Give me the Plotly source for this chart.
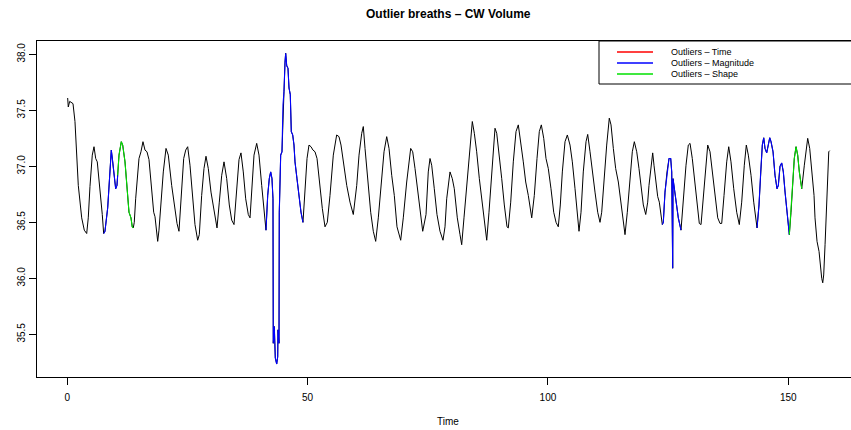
import plotly.graph_objects as go

# ---- data ----
time = [0.08, 0.21, 0.50, 0.77, 1.19, 1.60, 2.29, 3.00, 3.54, 4.04, 4.37, 4.72, 5.20, 5.56, 5.91, 6.24,
        6.80, 7.28, 7.57, 7.84, 8.41, 8.88, 9.16, 9.45, 9.78, 10.07, 10.34, 10.49, 10.76, 11.24, 11.53,
        12.01, 12.42, 12.84, 13.25, 13.52, 13.73, 13.94, 14.23, 14.56, 14.92, 15.33, 15.75, 16.17, 16.58,
        17.00, 17.56, 17.98, 18.25, 18.52, 18.81, 19.08, 19.50, 19.98, 20.54, 21.02, 21.72, 22.41, 22.83,
        23.24, 23.66, 24.22, 24.64, 25.05, 25.53, 26.01, 26.57, 27.13, 27.47, 27.96, 28.44, 28.86, 29.34,
        29.90, 30.59, 31.15, 31.63, 32.13, 32.61, 33.17, 33.71, 34.21, 34.69, 35.25, 35.73, 36.14, 36.62,
        37.12, 37.66, 38.02, 38.37, 38.85, 39.41, 39.89, 40.45, 40.99, 41.34, 41.70, 42.03, 42.32, 42.59,
        42.80, 42.86, 43.07, 43.28, 43.57, 43.78, 43.84, 44.05, 44.11, 44.40, 44.67, 44.88, 45.09, 45.30,
        45.44, 45.65, 45.92, 46.13, 46.40, 46.61, 46.90, 47.17, 47.38, 47.79, 48.21, 48.63, 49.04, 49.46,
        49.88, 50.29, 50.71, 51.12, 51.54, 51.96, 52.52, 53.06, 53.62, 54.10, 54.66, 55.35, 56.05, 56.53,
        56.95, 57.43, 58.14, 58.82, 59.51, 60.22, 60.70, 61.26, 61.59, 61.95, 62.51, 63.13, 63.67, 64.17,
        64.71, 65.27, 65.90, 66.46, 66.94, 67.50, 68.04, 68.60, 69.37, 69.91, 70.62, 71.45, 71.87, 72.35,
        72.83, 73.39, 73.95, 74.64, 75.11, 75.47, 75.82, 76.36, 76.92, 77.55, 78.17, 78.59, 78.94, 79.63,
        80.11, 80.52, 81.15, 81.71, 82.06, 82.54, 83.10, 83.58, 84.27, 84.69, 85.18, 85.73, 86.35, 86.91,
        87.27, 87.74, 88.31, 88.99, 89.35, 89.83, 90.39, 90.93, 91.49, 91.76, 92.26, 92.80, 93.36, 93.84,
        94.34, 94.88, 95.38, 95.92, 96.63, 97.17, 97.73, 98.21, 98.63, 99.13, 99.60, 100.08, 100.64,
        101.21, 101.69, 102.16, 102.58, 103.00, 103.56, 104.04, 104.60, 105.08, 105.64, 106.05, 106.47,
        106.89, 107.36, 107.93, 108.28, 108.76, 109.24, 109.80, 110.36, 110.84, 111.19, 111.67, 112.23,
        112.77, 113.13, 113.61, 114.10, 114.65, 115.21, 115.69, 116.04, 116.52, 117.08, 117.56, 117.98,
        118.48, 118.95, 119.37, 119.85, 120.35, 120.76, 121.03, 121.45, 121.80, 122.07, 122.43, 122.84,
        123.18, 123.53, 123.80, 124.01, 124.36, 124.78, 125.20, 125.55, 125.76, 125.88, 125.96, 126.03,
        126.23, 126.65, 127.13, 127.69, 128.17, 128.73, 129.21, 129.57, 130.04, 130.61, 131.02, 131.50,
        131.86, 132.33, 132.83, 133.25, 133.73, 134.21, 134.77, 135.33, 135.81, 136.16, 136.64, 137.20,
        137.62, 138.09, 138.66, 139.28, 139.82, 140.32, 140.86, 141.28, 141.70, 142.26, 142.82, 143.30,
        143.51, 143.92, 144.27, 144.61, 144.90, 145.17, 145.52, 145.86, 146.15, 146.42, 146.84, 147.25,
        147.67, 147.94, 148.29, 148.64, 148.98, 149.34, 149.68, 150.02, 150.23, 150.58, 150.94, 151.26,
        151.62, 151.97, 152.31, 152.81, 153.35, 153.70, 154.05, 154.47, 154.89, 155.37, 155.57, 155.99,
        156.41, 156.67, 156.97, 157.18, 157.38, 157.66, 158.01, 158.22, 158.43, 158.63]

volume = [37.61, 37.53, 37.58, 37.57, 37.56, 37.40, 36.83, 36.54, 36.43, 36.40, 36.54, 36.82, 37.10, 37.175,
          37.07, 37.04, 36.80, 36.57, 36.40, 36.42, 36.63, 36.98, 37.145, 37.04, 36.89, 36.80, 36.83, 36.92,
          37.10, 37.22, 37.19, 37.04, 36.77, 36.59, 36.54, 36.46, 36.45, 36.50, 36.71, 36.89, 37.07, 37.13,
          37.22, 37.145, 37.13, 37.06, 36.77, 36.59, 36.55, 36.45, 36.33, 36.43, 36.655, 36.95, 37.16,
          37.10, 36.83, 36.59, 36.49, 36.42, 36.68, 37.07, 37.145, 37.175, 37.01, 36.74, 36.48, 36.34,
          36.39, 36.74, 36.98, 37.09, 36.98, 36.77, 36.57, 36.45, 36.68, 36.92, 37.04, 36.89, 36.655,
          36.52, 36.48, 36.77, 37.06, 37.12, 36.95, 36.71, 36.57, 36.54, 36.80, 37.10, 37.205, 37.10,
          36.83, 36.54, 36.43, 36.74, 36.89, 36.95, 36.89, 36.71, 35.42, 35.57, 35.29, 35.235, 35.30,
          35.54, 35.42, 36.59, 37.10, 37.13, 37.55, 37.67, 37.93, 38.01, 37.90, 37.875, 37.70, 37.64,
          37.31, 37.28, 37.19, 37.04, 36.89, 36.74, 36.59, 36.50, 36.77, 37.07, 37.19, 37.175, 37.145,
          37.13, 37.07, 36.83, 36.625, 36.46, 36.50, 36.74, 37.10, 37.28, 37.265, 37.19, 37.04, 36.83,
          36.68, 36.57, 36.83, 37.10, 37.295, 37.355, 37.16, 36.88, 36.59, 36.42, 36.33, 36.54, 36.83,
          37.13, 37.265, 37.16, 36.92, 36.74, 36.46, 36.34, 36.54, 36.86, 37.16, 37.13, 36.98, 36.80,
          36.59, 36.42, 36.57, 36.95, 37.07, 37.01, 36.80, 36.57, 36.42, 36.34, 36.46, 36.71, 36.95,
          36.89, 36.80, 36.54, 36.39, 36.30, 36.54, 36.83, 37.10, 37.40, 37.295, 37.13, 36.89, 36.68,
          36.48, 36.34, 36.59, 36.98, 37.34, 37.295, 37.13, 36.89, 36.655, 36.46, 36.45, 36.68, 37.04,
          37.31, 37.37, 37.22, 37.04, 36.86, 36.74, 36.54, 36.74, 37.07, 37.31, 37.37, 37.25, 37.07,
          36.98, 36.80, 36.59, 36.50, 36.46, 36.655, 36.95, 37.22, 37.28, 37.19, 37.04, 36.80, 36.59,
          36.42, 36.59, 36.95, 37.22, 37.285, 37.13, 36.95, 36.77, 36.59, 36.50, 36.59, 36.89, 37.19,
          37.43, 37.37, 37.16, 36.98, 36.86, 36.655, 36.48, 36.39, 36.59, 36.89, 37.13, 37.22, 37.13,
          36.98, 36.83, 36.655, 36.57, 36.68, 36.83, 37.01, 37.12, 37.01, 36.89, 36.73, 36.68, 36.57,
          36.48, 36.50, 36.77, 36.95, 37.07, 37.07, 36.95, 36.45, 36.09, 36.89, 36.83, 36.68, 36.54,
          36.43, 36.71, 37.01, 37.19, 37.205, 37.07, 36.83, 36.655, 36.49, 36.48, 36.71, 37.01, 37.19,
          37.13, 36.95, 36.74, 36.54, 36.49, 36.49, 36.74, 37.04, 37.175, 37.04, 36.80, 36.59, 36.48,
          36.68, 37.01, 37.19, 37.10, 36.92, 36.68, 36.50, 36.45, 36.655, 36.95, 37.19, 37.255, 37.16,
          37.12, 37.19, 37.255, 37.22, 37.13, 36.92, 36.80, 36.83, 37.00, 37.03, 36.95, 36.77, 36.625,
          36.48, 36.39, 36.59, 36.86, 37.07, 37.175, 37.10, 36.95, 36.80, 37.01, 37.16, 37.25, 37.16,
          36.95, 36.74, 36.54, 36.33, 36.24, 36.12, 36.00, 35.96, 36.03, 36.30, 36.74, 37.01, 37.13, 37.14]

# outlier windows (time ranges)
time_outliers = []
magnitude_outliers = [(7.57, 10.49), (41.34, 49.04), (123.80, 127.69), (143.51, 150.23)]
shape_outliers = [(10.49, 13.73), (150.23, 152.81)]

x_ticks = [0, 50, 100, 150]
y_ticks = [35.5, 36.0, 36.5, 37.0, 37.5, 38.0]

legend_labels = ["Outliers \u2013 Time", "Outliers \u2013 Magnitude", "Outliers \u2013 Shape"]
legend_colors = ["#FF0000", "#0000FF", "#00E000"]

FONT = "Liberation Sans, Arial, Helvetica, sans-serif"


def masked(ranges):
    xs, ys = [], []
    for a, b in ranges:
        for t, v in zip(time, volume):
            if a - 1e-9 <= t <= b + 1e-9:
                xs.append(t)
                ys.append(v)
        xs.append(None)
        ys.append(None)
    return xs, ys


fig = go.Figure()
fig.add_trace(go.Scatter(x=time, y=volume, mode="lines",
                         line=dict(color="black", width=1.0), showlegend=False))
for rng, col in [(time_outliers, legend_colors[0]),
                 (magnitude_outliers, legend_colors[1]),
                 (shape_outliers, legend_colors[2])]:
    if rng:
        xs, ys = masked(rng)
        fig.add_trace(go.Scatter(x=xs, y=ys, mode="lines",
                                 line=dict(color=col, width=1.1), showlegend=False))

W, H = 851, 430
L, R, T, B = 37, 0, 41, 53
pw, ph = W - L - R, H - T - B


def px_x(p):
    return (p - L) / pw


def px_y(p):
    return (H - B - p) / ph


shapes = [
    dict(type="rect", xref="paper", yref="paper", x0=px_x(599), x1=1.06, y0=px_y(84), y1=1.0,
         line=dict(color="black", width=1), fillcolor="white", layer="above"),
]
annotations = []
rows = [52, 63, 74]
for lab, col, r in zip(legend_labels, legend_colors, rows):
    shapes.append(dict(type="line", xref="paper", yref="paper", x0=px_x(617), x1=px_x(653),
                       y0=px_y(r), y1=px_y(r), line=dict(color=col, width=1.3), layer="above"))
    annotations.append(dict(xref="paper", yref="paper", x=px_x(669), y=px_y(r), text=lab,
                            showarrow=False, xanchor="left", yanchor="middle",
                            font=dict(family=FONT, size=9, color="black")))

annotations.append(dict(xref="paper", yref="paper", x=px_x(448), y=px_y(14),
                        text="<b>Outlier breaths \u2013 CW Volume</b>", showarrow=False,
                        xanchor="center", yanchor="middle",
                        font=dict(family=FONT, size=12, color="black")))
annotations.append(dict(xref="paper", yref="paper", x=px_x(448), y=px_y(421), text="Time",
                        showarrow=False, xanchor="center", yanchor="middle",
                        font=dict(family=FONT, size=10, color="black")))

fig.update_layout(
    width=W, height=H,
    margin=dict(l=L, r=R, t=T, b=B, pad=0),
    paper_bgcolor="white", plot_bgcolor="white",
    showlegend=False,
    shapes=shapes, annotations=annotations,
    font=dict(family=FONT, size=10, color="black"),
    xaxis=dict(range=[-6.30, 163.06], tickvals=x_ticks, ticktext=[str(v) for v in x_ticks],
               showgrid=False, zeroline=False, showline=True, mirror=True,
               linecolor="black", linewidth=1, ticks="outside", ticklen=7, tickwidth=1,
               tickcolor="black", tickfont=dict(family=FONT, size=10, color="black"),
               ticklabelstandoff=4),
    yaxis=dict(range=[35.119, 38.119], tickvals=y_ticks, ticktext=[f"{v:.1f}" for v in y_ticks],
               showgrid=False, zeroline=False, showline=True, mirror=False,
               linecolor="black", linewidth=1, ticks="outside", ticklen=7, tickwidth=1,
               tickcolor="black", tickangle=-90, tickfont=dict(family=FONT, size=10, color="black"),
               ticklabelstandoff=0),
)

fig.write_html("out.html")
